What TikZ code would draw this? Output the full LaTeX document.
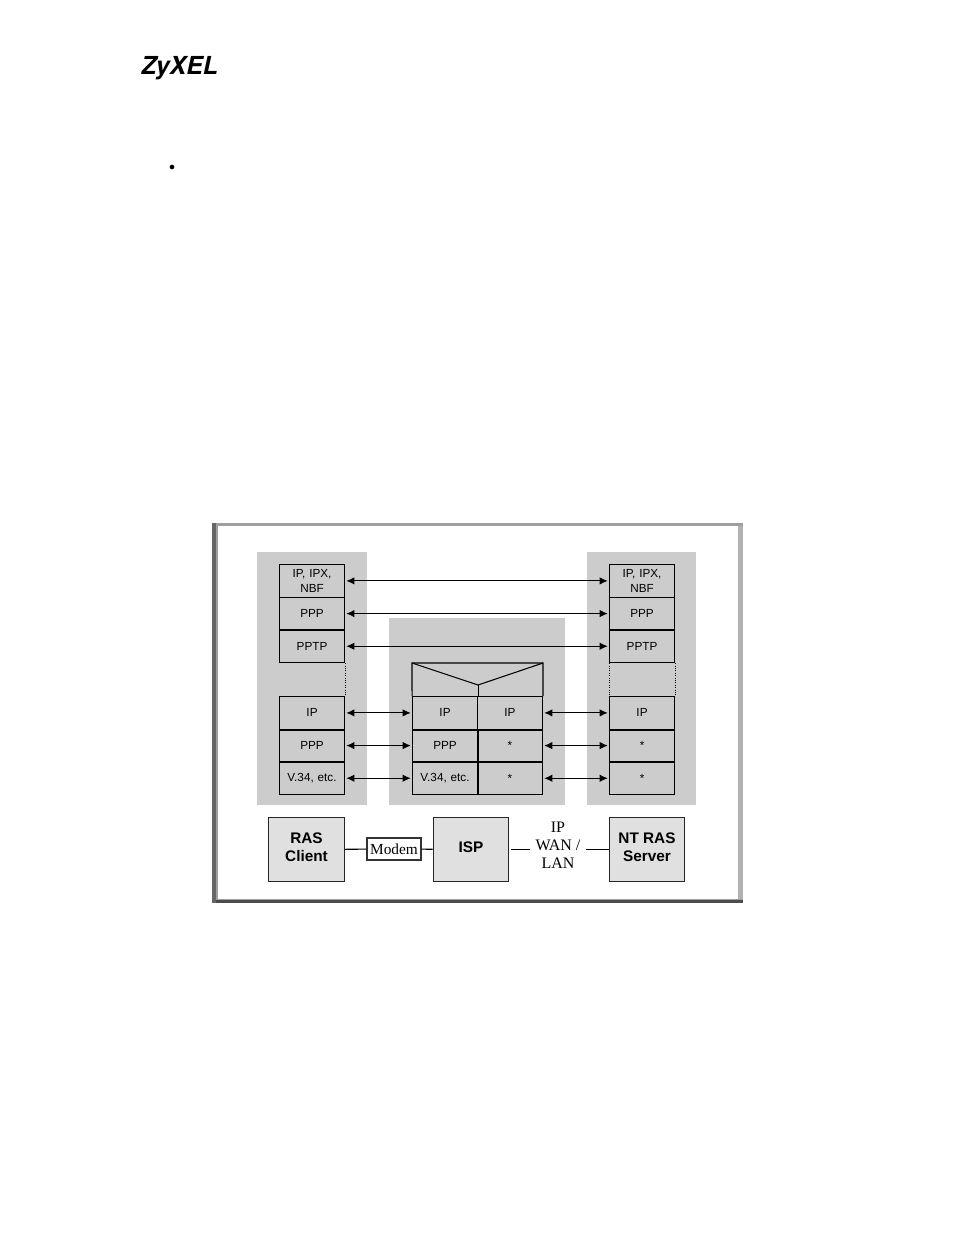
\documentclass[tikz,border=0pt]{standalone}
\usepackage{fontspec}
\setmainfont{Liberation Sans}
\newfontfamily\serifface{Liberation Serif}
\newfontfamily\logoface{TeX Gyre Heros}
\usetikzlibrary{arrows.meta,calc,matrix,positioning}
\definecolor{panelgray}{HTML}{CCCCCC}
\definecolor{boxgray}{HTML}{E0E0E0}
\tikzset{stack matrix/.style={
    matrix of nodes,
    inner sep=0pt,
    line width=0.8pt,
    column sep=-\pgflinewidth, row sep=-\pgflinewidth,
    nodes={draw=black,
      minimum height=#1,
      text width=48.7pt,
      anchor=center,
      align=center,
      inner sep=0pt,
      font=\fontsize{8.8}{10.9}\selectfont
    },
  },
  stack matrix/.default=24.5pt,
  panel/.style={fill=panelgray},
  rowline/.style={line width=1.3pt,black},
  link/.style={{Latex[length=6pt,width=5.5pt]}-{Latex[length=6pt,width=5.5pt]},line width=0.65pt,shorten >=1pt,shorten <=1pt},
  wire/.style={line width=0.8pt,black},
  device/.style={draw=black!85,line width=0.9pt,fill=boxgray,minimum width=56.5pt,minimum height=48.5pt,
    inner sep=0pt,align=center,text depth=3pt,font=\fontsize{11.5}{13.5}\selectfont\bfseries},
  seriftext/.style={inner sep=0pt,align=center,font=\fontsize{12}{13.5}\selectfont\serifface}
}
\begin{document}
\begin{tikzpicture}[x=0.75pt,y=-0.75pt]
    \useasboundingbox (0,0) rectangle (954,1235);
    % page furniture
    \node[anchor=west,inner sep=0pt,font=\fontsize{18.6}{20}\selectfont\logoface\bfseries\itshape] (logo) at (141,68) {ZyXEL};
    \node[circle,fill=black,inner sep=0pt,minimum size=3.5pt] (bullet) at (172,167) {};
    % frame
    \fill[gray!75] (212,523) rectangle (743,903);
    \fill[black!30] (738,526) rectangle (743,899);
    \fill[black!70] (212,900) rectangle (743,903);
    \fill[black!60] (212,523) rectangle (216,903);
    \fill[white] (218,526) rectangle (738,899);
    % panels
    \fill[panel] (257,552) rectangle (367,805);
    \fill[panel] (389,618) rectangle (565,805);
    \fill[panel] (587,552) rectangle (696,805);
    % left stack
    \matrix[stack matrix,anchor=north west] (lefttop) at (278.5,563.5) {
        {IP, IPX,\\NBF} \\
        PPP \\
        PPTP \\
    };
    \matrix[stack matrix,anchor=north west] (leftlow) at (278.5,695.5) {
        IP \\
        PPP \\
        V.34, etc. \\
    };
    % right stack
    \matrix[stack matrix,anchor=north west] (righttop) at (608.5,563.5) {
        {IP, IPX,\\NBF} \\
        PPP \\
        PPTP \\
    };
    \matrix[stack matrix,anchor=north west] (rightlow) at (608.5,695.5) {
        IP \\
        * \\
        * \\
    };
    % middle stack
    \matrix[stack matrix,anchor=north west] (mid) at (411.5,695.5) {
        IP & IP \\
        PPP & * \\
        V.34, etc. & * \\
    };
    \draw[line width=0.8pt] (mid-1-1.north west) -- (412,663) -- (543,663) -- (mid-1-2.north east);
    \coordinate (notch) at (mid-1-1.north east |- 0,685);
    \draw[line width=0.8pt] (412,663) -- (notch) -- (543,663);
    \draw[line width=0.8pt] (notch) -- (mid-1-1.north east);
    % heavy row lines
    \draw[rowline] (lefttop-2-1.south west) -- (lefttop-2-1.south east);
    \draw[rowline] (righttop-2-1.south west) -- (righttop-2-1.south east);
    \foreach \r in {1,2} {
        \draw[rowline] (leftlow-\r-1.south west) -- (leftlow-\r-1.south east);
        \draw[rowline] (rightlow-\r-1.south west) -- (rightlow-\r-1.south east);
        \draw[rowline] (mid-\r-1.south west) -- (mid-\r-2.south east);
    }
    \draw[rowline] (mid-1-1.south east) -- (mid-3-1.south east);
    % dotted joins
    \draw[densely dotted,line width=0.8pt] (lefttop-3-1.south east) -- (leftlow-1-1.north east);
    \draw[densely dotted,line width=0.8pt] (righttop-3-1.south east) -- (rightlow-1-1.north east);
    \draw[densely dotted,line width=0.8pt] (righttop-3-1.south west) -- (rightlow-1-1.north west);
    % arrows
    \foreach \r in {1,2,3} {
        \draw[link] (lefttop-\r-1.east) -- (righttop-\r-1.west);
        \draw[link] (leftlow-\r-1.east) -- (mid-\r-1.west);
        \draw[link] (mid-\r-2.east) -- (rightlow-\r-1.west);
    }
    % devices
    \node[device] (client) at (306.5,849.5) {RAS\\Client};
    \node[device] (isp) at (471,849.5) {ISP};
    \node[device] (server) at (647,849.5) {NT RAS\\Server};
    \node[draw=black!80,line width=0.8pt,fill=white,minimum width=40.5pt,minimum height=16.5pt,inner sep=0pt,
      font=\fontsize{11.5}{13}\selectfont\serifface] (modem) at (394,849) {Modem};
    \node[seriftext] (wan) at (558,845) {IP\\WAN /\\LAN};
    \draw[wire] (client) -- (modem);
    \draw[wire] (modem) -- (isp);
    \draw[wire,shorten <=1.5pt,shorten >=4pt] (isp.east) -- (isp.east -| wan.west);
    \draw[wire,shorten <=4pt] (wan.east |- server.west) -- (server.west);
\end{tikzpicture}
\end{document}
